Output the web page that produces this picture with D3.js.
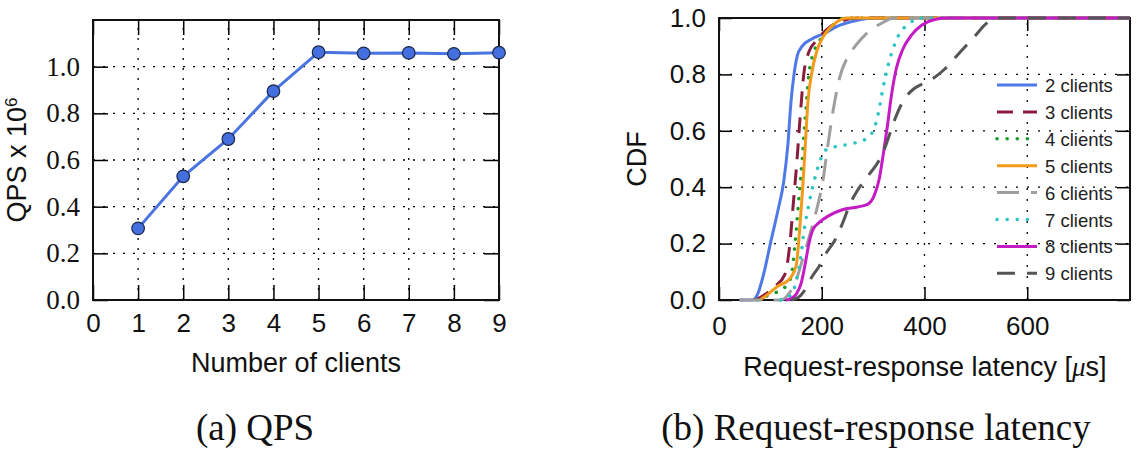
<!DOCTYPE html>
<html>
<head>
<meta charset="utf-8">
<script src="https://cdn.jsdelivr.net/npm/d3@7"></script>
<style>
  body { margin: 0; background: #fff; }
  svg { display: block; }
</style>
</head>
<body>
<div id="chart"></div>
<script>
// ---- data: (a) QPS ----
const clientCounts = [1, 2, 3, 4, 5, 6, 7, 8, 9];
const qpsValues = [0.307, 0.53, 0.69, 0.895, 1.062, 1.057, 1.059, 1.055, 1.06];
const qpsXTicks = [0, 1, 2, 3, 4, 5, 6, 7, 8, 9];
const qpsYTicks = [0.0, 0.2, 0.4, 0.6, 0.8, 1.0];

// ---- data: (b) latency CDF, [latency us, cdf] ----
const cdf2 = [[40,0],[65,0],[75,0.02],[88,0.1],[100,0.2],[115,0.32],[126,0.42],[134,0.55],[140,0.7],[146,0.8],[153,0.87],[162,0.9],[180,0.925],[205,0.945],[230,0.97],[265,0.99],[300,1],[800,1]];
const cdf3 = [[70,0],[90,0.02],[110,0.05],[128,0.09],[138,0.2],[145,0.35],[152,0.5],[158,0.65],[165,0.8],[175,0.88],[190,0.92],[210,0.96],[240,0.99],[270,1],[800,1]];
const cdf4 = [[75,0],[100,0.02],[125,0.04],[140,0.08],[148,0.2],[155,0.35],[162,0.5],[168,0.65],[175,0.8],[185,0.88],[200,0.93],[220,0.97],[245,1],[800,1]];
const cdf5 = [[80,0],[95,0.02],[115,0.05],[135,0.07],[150,0.12],[157,0.25],[163,0.4],[168,0.55],[173,0.7],[180,0.8],[190,0.88],[205,0.94],[225,0.98],[250,1],[800,1]];
const cdf6 = [[40,0],[120,0],[135,0.02],[150,0.07],[162,0.14],[175,0.22],[190,0.32],[202,0.42],[212,0.55],[222,0.67],[235,0.79],[250,0.86],[265,0.9],[290,0.95],[320,0.985],[340,1],[800,1]];
const cdf7 = [[120,0],[135,0.01],[148,0.05],[158,0.14],[166,0.25],[175,0.34],[185,0.42],[198,0.5],[210,0.535],[230,0.545],[260,0.555],[285,0.57],[300,0.6],[310,0.66],[318,0.74],[325,0.8],[335,0.87],[350,0.94],[370,0.98],[392,1],[800,1]];
const cdf8 = [[130,0],[140,0.005],[150,0.02],[160,0.06],[168,0.13],[175,0.2],[183,0.25],[195,0.275],[215,0.3],[240,0.32],[270,0.33],[290,0.34],[302,0.37],[312,0.43],[320,0.52],[328,0.62],[336,0.73],[345,0.82],[358,0.89],[375,0.94],[395,0.975],[420,0.995],[445,1],[800,1]];
const cdf9 = [[140,0],[155,0.01],[165,0.03],[180,0.08],[195,0.12],[210,0.17],[225,0.21],[240,0.27],[255,0.34],[270,0.39],[290,0.44],[310,0.49],[325,0.55],[340,0.63],[360,0.71],[380,0.75],[400,0.77],[420,0.79],[440,0.82],[460,0.86],[480,0.9],[500,0.94],[520,0.98],[540,1],[800,1]];
const seriesNames = ["2 clients", "3 clients", "4 clients", "5 clients", "6 clients", "7 clients", "8 clients", "9 clients"];
const latXTicks = [0, 200, 400, 600];
const latYTicks = [0.0, 0.2, 0.4, 0.6, 0.8, 1.0];

// line styles per series
const styles = [
  { color: "#5079e8", dash: null },
  { color: "#8c1c3c", dash: "16,10" },
  { color: "#179c2a", dash: "0.1,10", cap: "round" },
  { color: "#f39a1b", dash: null },
  { color: "#9e9e9e", dash: "22,12" },
  { color: "#2cc5c5", dash: "0.1,10", cap: "round" },
  { color: "#c51bc5", dash: null },
  { color: "#555555", dash: "18,12" }
];
const cdfSeries = [cdf2, cdf3, cdf4, cdf5, cdf6, cdf7, cdf8, cdf9];

const sans = "'Liberation Sans', Arial, Helvetica, sans-serif";
const serif = "'Liberation Serif', 'Times New Roman', serif";

const svg = d3.select("#chart").append("svg")
  .attr("width", 1140)
  .attr("height", 454);

svg.append("rect").attr("width", 1140).attr("height", 454).attr("fill", "#fff");

// dotted grid inside a panel
function drawGrid(g, x, y, xt, yt, dash) {
  const [x0, x1] = x.range();
  const [y0, y1] = y.range();
  g.selectAll(".vg").data(xt).enter().append("line")
    .attr("x1", d => x(d)).attr("x2", d => x(d))
    .attr("y1", y0).attr("y2", y1)
    .attr("stroke", "#000").attr("stroke-width", 1.3)
    .attr("stroke-dasharray", dash);
  g.selectAll(".hg").data(yt).enter().append("line")
    .attr("x1", x0).attr("x2", x1)
    .attr("y1", d => y(d)).attr("y2", d => y(d))
    .attr("stroke", "#000").attr("stroke-width", 1.3)
    .attr("stroke-dasharray", dash);
}

// inward ticks on all four sides + frame
function drawAxes(g, x, y, xt, yt, tick, xFont, yFont, xBase) {
  const [x0, x1] = x.range();
  const [y0, y1] = y.range();
  const bx = g.append("g").attr("transform", `translate(0,${y0})`)
    .call(d3.axisBottom(x).tickValues(xt).tickSizeInner(-tick).tickSizeOuter(0).tickFormat(d3.format("d")));
  bx.selectAll("text").attr("y", xBase - y0).attr("dy", null)
    .style("font-family", sans).style("font-size", xFont + "px").attr("fill", "#111");
  g.append("g").attr("transform", `translate(0,${y1})`)
    .call(d3.axisTop(x).tickValues(xt).tickSizeInner(-tick).tickSizeOuter(0).tickFormat(""));
  const ly = g.append("g").attr("transform", `translate(${x0},0)`)
    .call(d3.axisLeft(y).tickValues(yt).tickSizeInner(-tick).tickSizeOuter(0).tickPadding(13).tickFormat(d3.format(".1f")));
  ly.selectAll("text").style("font-family", yFont.family).style("font-size", yFont.size + "px").attr("fill", "#111");
  g.append("g").attr("transform", `translate(${x1},0)`)
    .call(d3.axisRight(y).tickValues(yt).tickSizeInner(-tick).tickSizeOuter(0).tickFormat(""));
  g.selectAll(".domain").remove();
  g.selectAll(".tick line").attr("stroke", "#000").attr("stroke-width", 1.5);
  g.append("rect")
    .attr("x", x0).attr("y", y1)
    .attr("width", x1 - x0).attr("height", y0 - y1)
    .attr("fill", "none").attr("stroke", "#111").attr("stroke-width", 2);
}

// ================= (a) QPS =================
const xa = d3.scaleLinear().domain([0, 9]).range([93, 499]);
const ya = d3.scaleLinear().domain([0, 1.2]).range([300, 20]);
const ga = svg.append("g");

drawGrid(ga, xa, ya, clientCounts.slice(0, 8), qpsYTicks.slice(1), "2,8");
drawAxes(ga, xa, ya, qpsXTicks, qpsYTicks, 15, 26, { family: serif, size: 27 }, 332);

const qpsData = clientCounts.map((c, i) => ({ c, v: qpsValues[i] }));
ga.append("path")
  .datum(qpsData)
  .attr("fill", "none")
  .attr("stroke", "#4a74e0")
  .attr("stroke-width", 3)
  .attr("d", d3.line().x(d => xa(d.c)).y(d => ya(d.v)));

ga.selectAll(".dot").data(qpsData).enter().append("circle")
  .attr("cx", d => xa(d.c))
  .attr("cy", d => ya(d.v))
  .attr("r", 6.3)
  .attr("fill", "#4470df")
  .attr("stroke", "#1b2748")
  .attr("stroke-width", 1.2);

ga.append("text")
  .attr("x", 296).attr("y", 372)
  .attr("text-anchor", "middle")
  .style("font-family", sans).style("font-size", "27px").attr("fill", "#111")
  .text("Number of clients");

const qpsLabel = ga.append("text")
  .attr("transform", "translate(26,160) rotate(-90)")
  .attr("text-anchor", "middle")
  .style("font-family", sans).style("font-size", "27px").attr("fill", "#111");
qpsLabel.append("tspan").text("QPS x 10");
qpsLabel.append("tspan").attr("dy", -9).style("font-size", "17px").text("6");

// ================= (b) latency =================
const xb = d3.scaleLinear().domain([0, 800]).range([719, 1130]);
const yb = d3.scaleLinear().domain([0, 1]).range([300, 18]);
const gb = svg.append("g");

drawGrid(gb, xb, yb, latXTicks.slice(1), latYTicks.slice(1, 5), "2,9");
drawAxes(gb, xb, yb, latXTicks, latYTicks, 13, 26, { family: sans, size: 26 }, 335);

const line = d3.line()
  .x(d => xb(d[0]))
  .y(d => yb(d[1]))
  .curve(d3.curveMonotoneX);

svg.append("clipPath").attr("id", "clipb").append("rect")
  .attr("x", 719).attr("y", 16).attr("width", 411).attr("height", 286);

cdfSeries.forEach((pts, i) => {
  const s = styles[i];
  gb.append("path")
    .datum(pts)
    .attr("clip-path", "url(#clipb)")
    .attr("fill", "none")
    .attr("stroke", s.color)
    .attr("stroke-width", s.cap ? 3.5 : 3)
    .attr("stroke-linecap", s.cap || "butt")
    .attr("stroke-dasharray", s.dash)
    .attr("d", line);
});

// legend (no box, grid shows through)
const legend = gb.append("g");
seriesNames.forEach((name, i) => {
  const s = styles[i];
  const ly = 85 + i * 26.9;
  legend.append("line")
    .attr("x1", 997).attr("x2", 1037)
    .attr("y1", ly).attr("y2", ly)
    .attr("stroke", s.color)
    .attr("stroke-width", s.cap ? 3.5 : 3)
    .attr("stroke-linecap", s.cap || "butt")
    .attr("stroke-dasharray", s.dash);
  legend.append("text")
    .attr("x", 1045).attr("y", ly + 7)
    .style("font-family", sans).style("font-size", "18.5px").attr("fill", "#222")
    .text(name);
});

gb.append("text")
  .attr("x", 925).attr("y", 376)
  .attr("text-anchor", "middle")
  .style("font-family", sans).style("font-size", "27px").attr("fill", "#111")
  .call(t => {
    t.append("tspan").text("Request-response latency [");
    t.append("tspan").style("font-family", serif).style("font-style", "italic").text("\u03bc");
    t.append("tspan").text("s]");
  });

gb.append("text")
  .attr("transform", "translate(646,159) rotate(-90)")
  .attr("text-anchor", "middle")
  .style("font-family", sans).style("font-size", "27px").attr("fill", "#111")
  .text("CDF");

// captions
svg.append("text")
  .attr("x", 255).attr("y", 440)
  .attr("text-anchor", "middle")
  .style("font-family", serif).style("font-size", "37px").attr("fill", "#111")
  .text("(a) QPS");

svg.append("text")
  .attr("x", 876).attr("y", 440)
  .attr("text-anchor", "middle")
  .style("font-family", serif).style("font-size", "37px").attr("fill", "#111")
  .text("(b) Request-response latency");
</script>
</body>
</html>
